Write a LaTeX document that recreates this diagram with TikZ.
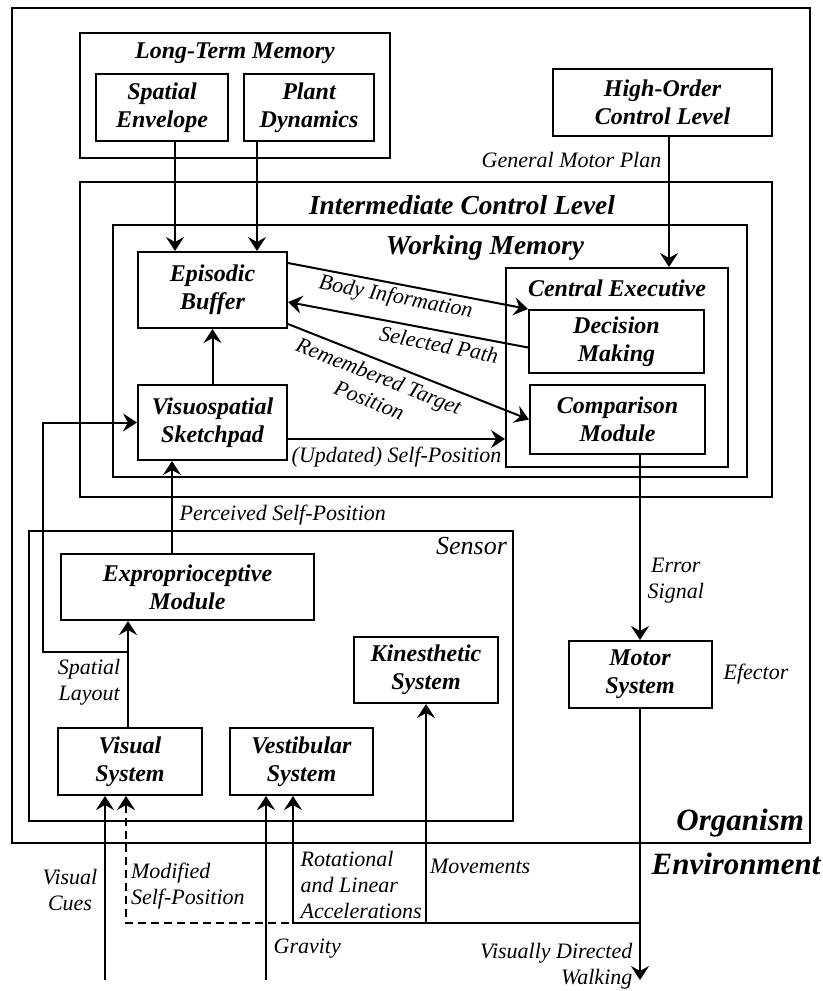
\documentclass[tikz,border=0pt]{standalone}
\usepackage{fontspec}
\setmainfont{Liberation Serif}
\usetikzlibrary{arrows.meta,positioning,fit}

\begin{document}
\begin{tikzpicture}[x=0.5pt,y=-0.5pt]
  \tikzstyle{unit}=[draw,line width=1pt,align=center,inner sep=0pt,font=\fontsize{12}{14}\selectfont\bfseries\itshape]
  \tikzstyle{wrap}=[draw,line width=1pt,inner sep=0pt]
  \tikzstyle{ttl}=[font=\fontsize{12}{14}\selectfont\bfseries\itshape]
  \tikzstyle{bigttl}=[font=\fontsize{13.7}{16}\selectfont\bfseries\itshape]
  \tikzstyle{hugettl}=[font=\fontsize{15.5}{18}\selectfont\bfseries\itshape]
  \tikzstyle{lab}=[font=\fontsize{11}{13}\selectfont\itshape,align=center]
  \tikzstyle{arr}=[line width=1pt,-{Stealth[length=7pt,width=9pt,inset=2.5pt]}]
  \newcommand\unitbox[6]{\node[unit,minimum width=#5pt,minimum height=#6pt] (#3) at (#1,#2) {#4};}
  \useasboundingbox (0,0) rectangle (823,991);
  % frames
  \node[wrap,fit={(12,8) (810,843)}] (org) {};
  \node[wrap,fit={(80,33) (390,158)}] (ltm) {};
  \node[wrap,fit={(80,182) (772,497)}] (icl) {};
  \node[wrap,fit={(113,225) (747,477)}] (wm) {};
  \node[wrap,fit={(506,268) (728,467)}] (ce) {};
  \node[wrap,fit={(29,531) (513,821)}] (sen) {};
  \node[ttl,anchor=north] (ltmt) at ([yshift=-2pt]ltm.north) {Long-Term Memory};
  \node[bigttl] (iclt) at (462,205) {Intermediate Control Level};
  \node[bigttl] (wmt) at (485,248) {Working Memory};
  \node[ttl,anchor=north] (cet) at ([yshift=-3pt]ce.north) {Central Executive};
  \node[lab,font=\fontsize{13}{15}\selectfont\itshape,anchor=north east] (sent) at (sen.north east) {Sensor};
  \node[hugettl,anchor=south east] (orgt) at (org.south east) {Organism};
  \node[hugettl] (envt) at (736,864) {Environment};
  % units
  \unitbox{162}{107.5}{se}{Spatial\\Envelope}{66}{33.5}
  \unitbox{309}{107.5}{pd}{Plant\\Dynamics}{65}{33.5}
  \unitbox{662.5}{102.5}{hocl}{High-Order\\Control Level}{109.5}{33.5}
  \unitbox{212.5}{290}{eb}{Episodic\\Buffer}{74.5}{38}
  \unitbox{212.5}{422.5}{vss}{Visuospatial\\Sketchpad}{74.5}{37.5}
  \unitbox{616.5}{341.5}{dm}{Decision\\Making}{87.5}{31.5}
  \unitbox{617.5}{419.5}{cm}{Comparison\\Module}{87.5}{34.5}
  \unitbox{187.5}{587}{epm}{Exproprioceptive\\Module}{126.5}{33}
  \unitbox{426}{670}{kin}{Kinesthetic\\System}{72}{33}
  \unitbox{130}{761.5}{vis}{Visual\\System}{72}{33.5}
  \unitbox{301.5}{761.5}{vest}{Vestibular\\System}{71.5}{33.5}
  \unitbox{640}{674.5}{mot}{Motor\\System}{71.5}{33.5}
  \node[lab,right=2pt of mot] (efe) {Efector};
  % helper points
  \path ([xshift=6.5pt]se.south) coordinate (se1)
        ([xshift=-26pt]pd.south) coordinate (pd1)
        ([xshift=3.25pt]hocl.south) coordinate (ho1)
        ([yshift=-8.25pt]vss.east) coordinate (vs1)
        ([xshift=-7.75pt]epm.north) coordinate (ep1)
        ([xshift=-1pt]vis.north) coordinate (vi1)
        ([xshift=-2pt]vis.south) coordinate (vi3)
        ([xshift=-4.25pt]vest.south) coordinate (ve2);
  \coordinate (sl) at (128,652);
  \coordinate (slx) at (43,652);
  \coordinate (jmot) at (640,923);
  \coordinate (walk) at (640,980);
  \coordinate (cues) at (105,980);
  \coordinate (grav) at (266,980);
  % connections
  \draw[arr] (se1) -- (se1 |- eb.north);
  \draw[arr] (pd1) -- (pd1 |- eb.north);
  \draw[arr] (ho1) -- (ho1 |- ce.north) node[lab,pos=0.18,left] {General Motor Plan};
  \draw[arr] ([yshift=13.5pt]eb.east) -- (dm.north west) node[lab,sloped,below,pos=0.46,inner sep=1.5pt] {Body Information};
  \draw[arr] ([yshift=-3pt]dm.west) -- ([yshift=-6pt]eb.east) node[lab,sloped,below,pos=0.36,inner sep=2.5pt] {Selected Path};
  \draw[arr] ([yshift=-17pt]eb.east) -- (cm.west) node[lab,sloped,below,pos=0.4,inner sep=3pt] {Remembered Target\\Position};
  \draw[arr] (vs1) -- (vs1 -| ce.west) node[lab,below,midway] {(Updated) Self-Position};
  \draw[arr] (vss.north) -- (eb.south);
  \draw[arr] (ep1) -- (ep1 |- vss.south) node[lab,pos=0.41,right] {Perceived Self-Position};
  \draw[arr] (vi1) -- (vi1 |- epm.south) node[lab,pos=0.42,left] {Spatial\\Layout};
  \draw[arr] (sl) -- (slx) |- (vss.west);
  \draw[arr] (cm.south -| mot.north) -- (mot.north) node[lab,pos=0.68,right] {Error\\Signal};
  \draw[arr] (mot.south) -- (walk) node[lab,pos=0.95,left,align=right] {Visually Directed\\Walking};
  \draw[arr,dash pattern=on 4pt off 2.5pt] (jmot) -| (vi3) node[lab,pos=0.645,right,align=left,inner sep=2pt] {Modified\\Self-Position};
  \draw[arr] (jmot) -| (kin.south) node[lab,pos=0.63,right,inner sep=1.5pt] {Movements};
  \draw[arr] (jmot) -| (ve2) node[lab,pos=0.65,right,align=left] {Rotational\\and Linear\\Accelerations};
  \draw[arr] (cues) -- (cues |- vis.south) node[lab,pos=0.49,left] {Visual\\Cues};
  \draw[arr] (grav) -- (grav |- vest.south) node[lab,pos=0.17,right] {Gravity};
\end{tikzpicture}
\end{document}
